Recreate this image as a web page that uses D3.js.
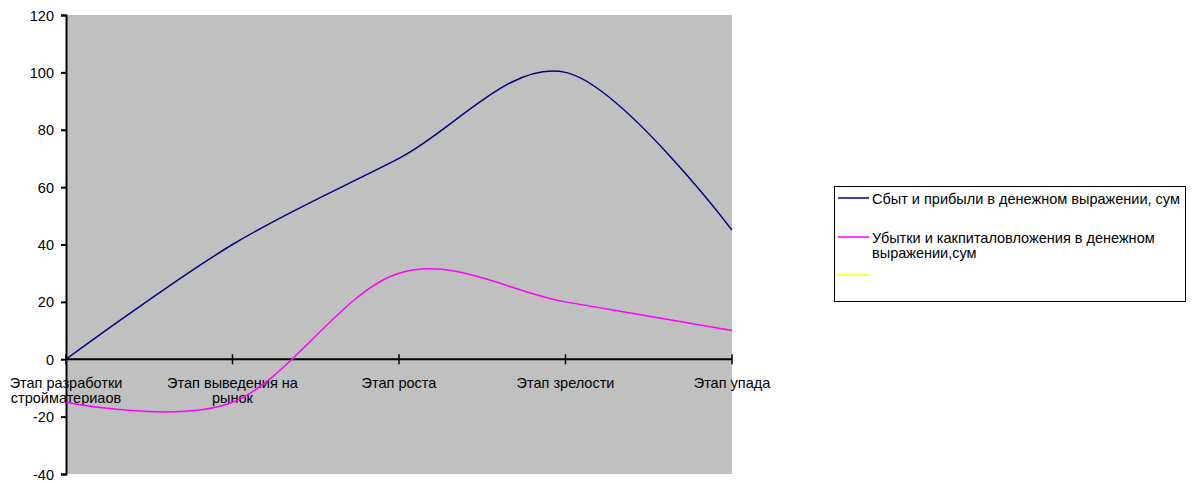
<!DOCTYPE html>
<html><head><meta charset="utf-8">
<script src="https://cdn.jsdelivr.net/npm/d3@7"></script>
<style>body{margin:0;background:#fff}svg{display:block}text{font-family:"Liberation Sans",Arial,sans-serif;font-size:14.5px;fill:#000}</style>
</head><body>
<script>
const categories = [["Этап разработки","стройматериаов"],["Этап выведения на","рынок"],["Этап роста"],["Этап зрелости"],["Этап упада"]];
const seriesNames = ["Сбыт и прибыли в денежном выражении, сум","Убытки и какпиталовложения в денежном выражении,сум",""];
const salesValues = [0, 40, 70, 100, 45];
const lossValues = [-15, -15, 30, 20, 10];
const thirdValues = [];
const yTicks = [-40,-20,0,20,40,60,80,100,120];
const colors = ["#000080","#FF00FF","#FFFF00"];

const W=1197,H=484;
const svg=d3.select("body").append("svg").attr("width",W).attr("height",H);
const x=d3.scalePoint().domain(d3.range(categories.length)).range([66,732]);
const y=d3.scaleLinear().domain([-40,120]).range([474,15]);

svg.append("rect").attr("x",66).attr("y",15).attr("width",666).attr("height",459).attr("fill","#C0C0C0");

// y axis
const ya=svg.append("g").attr("transform","translate(66,0)").call(d3.axisLeft(y).tickValues(yTicks).tickFormat(d=>String(d)).tickSize(5).tickPadding(7));
ya.select(".domain").attr("stroke","#000").attr("stroke-width",2);
ya.selectAll(".tick line").attr("stroke","#000").attr("stroke-width",2);
ya.selectAll(".tick text").style("font-size","14.5px").style("font-family","Liberation Sans, Arial").attr("fill","#000").attr("dy","0.35em");

// x axis at zero
const xg=svg.append("g").attr("transform",`translate(0,${y(0)})`);
xg.append("line").attr("x1",66).attr("x2",732).attr("stroke","#000").attr("stroke-width",2);
categories.forEach((c,i)=>{
  xg.append("line").attr("x1",x(i)).attr("x2",x(i)).attr("y1",-5).attr("y2",5).attr("stroke","#000").attr("stroke-width",1.5);
  const t=xg.append("text").attr("text-anchor","middle").attr("y",29);
  c.forEach((l,j)=>t.append("tspan").attr("x",x(i)).attr("dy",j?15:0).text(l));
});

const line=d3.line().x((d,i)=>x(i)).y(d=>y(d)).curve(d3.curveCardinal.tension(0));
[salesValues,lossValues,thirdValues].forEach((v,k)=>{
  if(v.length) svg.append("path").attr("d",line(v)).attr("fill","none").attr("stroke",colors[k]).attr("stroke-width",1.5);
});

// legend
const lg=svg.append("g");
lg.append("rect").attr("x",834.5).attr("y",186.5).attr("width",351).attr("height",115).attr("fill","#fff").attr("stroke","#000").attr("stroke-width",1);
const legLines=[[seriesNames[0]],["Убытки и какпиталовложения в денежном","выражении,сум"],[""]];
const ly=[198,237,275];
legLines.forEach((ls,k)=>{
  lg.append("line").attr("x1",838).attr("x2",869).attr("y1",ly[k]).attr("y2",ly[k]).attr("stroke",colors[k]).attr("stroke-width",1.5);
  const t=lg.append("text").attr("x",872).attr("y",ly[k]+6);
  ls.forEach((l,j)=>t.append("tspan").attr("x",872).attr("dy",j?15:0).text(l));
});
</script>
</body></html>
